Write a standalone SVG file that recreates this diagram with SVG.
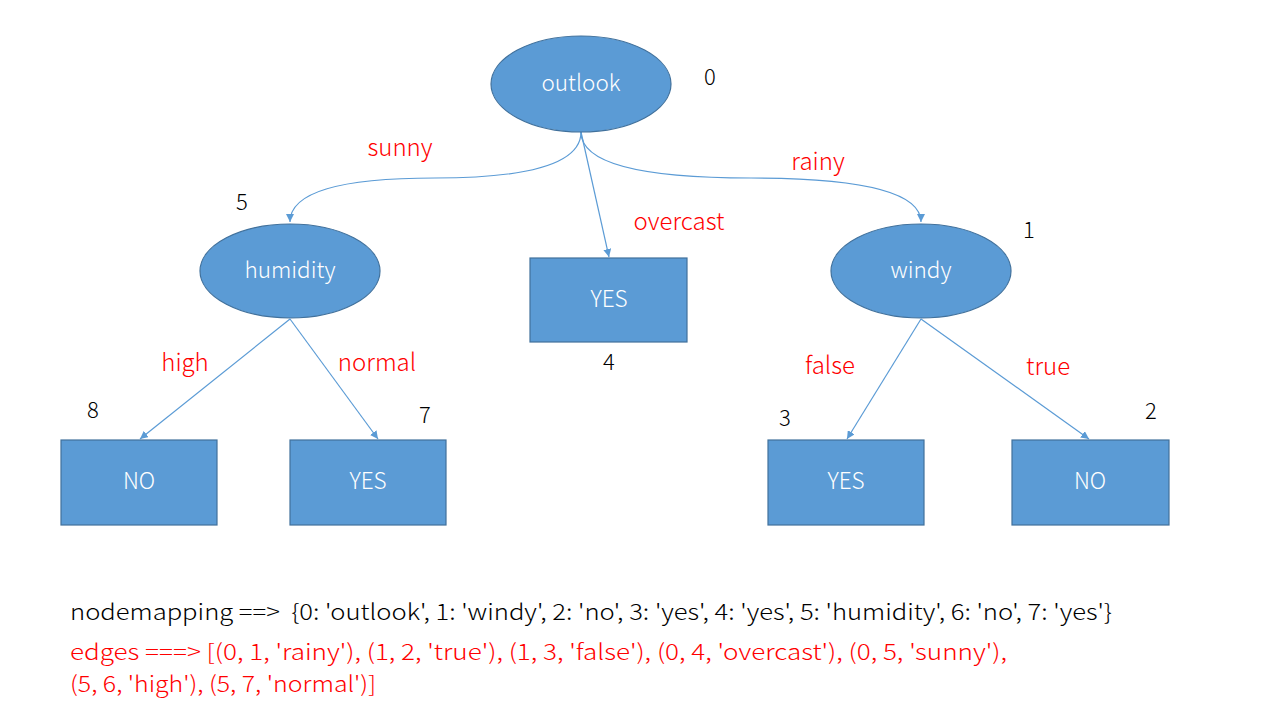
<svg xmlns="http://www.w3.org/2000/svg" width="1280" height="720" viewBox="0 0 1280 720">
<defs>
<style>
.node{fill:#5B9BD5;stroke:#41719C;stroke-width:1.2}
.nt{fill:#fff;font-family:"Noto Sans CJK JP","Noto Sans",sans-serif;font-size:22.5px;font-weight:300;text-anchor:middle}
.edge{fill:none;stroke:#5B9BD5;stroke-width:1.2;marker-end:url(#ah)}
.lbl{fill:#FF0000;font-family:"Noto Sans CJK JP","Noto Sans",sans-serif;font-size:24px;font-weight:300;text-anchor:middle}
.num{fill:#000;font-family:"Noto Sans CJK JP","Noto Sans",sans-serif;font-size:22px;font-weight:300;text-anchor:middle}
.code{font-family:"Noto Sans CJK JP","Noto Sans",sans-serif;font-size:22px;font-weight:300}
</style>
<marker id="ah" viewBox="0 0 10 10" refX="10" refY="5" markerWidth="8" markerHeight="8" markerUnits="userSpaceOnUse" orient="auto">
<path d="M0,0 L10,5 L0,10 z" fill="#5B9BD5"/>
</marker>
</defs>
<rect width="1280" height="720" fill="#fff"/>
<g id="connectors">
<path class="edge" d="M581,132 Q581,178 435,178 Q290,178 290,222"/>
<path class="edge" d="M581,132 Q581,178 751,178 Q921,178 921,222"/>
<path class="edge" d="M581,132 L609,257"/>
<path class="edge" d="M290,319 L140,439"/>
<path class="edge" d="M290,319 L378,439"/>
<path class="edge" d="M921,319 L847,439"/>
<path class="edge" d="M921,319 L1089,439"/>
</g>
<g id="edge-labels">
<text class="lbl" x="400" y="156">sunny</text>
<text class="lbl" x="818" y="170">rainy</text>
<text class="lbl" x="679" y="230">overcast</text>
<text class="lbl" x="185" y="371">high</text>
<text class="lbl" x="377" y="371">normal</text>
<text class="lbl" x="830" y="374">false</text>
<text class="lbl" x="1048" y="375">true</text>
</g>
<g id="node0">
<ellipse class="node" cx="581" cy="84" rx="90" ry="48"/>
<text class="nt" x="581" y="91">outlook</text>
<text class="num" x="710" y="85">0</text>
</g>
<g id="node5">
<ellipse class="node" cx="290" cy="271" rx="90" ry="47"/>
<text class="nt" x="290" y="278">humidity</text>
<text class="num" x="242" y="210">5</text>
</g>
<g id="node1">
<ellipse class="node" cx="921" cy="271" rx="90" ry="47"/>
<text class="nt" x="921" y="278">windy</text>
<text class="num" x="1029" y="238">1</text>
</g>
<g id="node4">
<rect class="node" x="530" y="258" width="157" height="84"/>
<text class="nt" x="609" y="307">YES</text>
<text class="num" x="609" y="370">4</text>
</g>
<g id="node8">
<rect class="node" x="61" y="440" width="156" height="85"/>
<text class="nt" x="139" y="489">NO</text>
<text class="num" x="93" y="418">8</text>
</g>
<g id="node7">
<rect class="node" x="290" y="440" width="156" height="85"/>
<text class="nt" x="368" y="489">YES</text>
<text class="num" x="425" y="423">7</text>
</g>
<g id="node3">
<rect class="node" x="768" y="440" width="156" height="85"/>
<text class="nt" x="846" y="489">YES</text>
<text class="num" x="785" y="426">3</text>
</g>
<g id="node2">
<rect class="node" x="1012" y="440" width="157" height="85"/>
<text class="nt" x="1090" y="489">NO</text>
<text class="num" x="1151" y="419">2</text>
</g>
<g id="text-block">
<text class="code" x="70" y="620" fill="#000" textLength="1042" lengthAdjust="spacingAndGlyphs" xml:space="preserve">nodemapping ==>  {0: 'outlook', 1: 'windy', 2: 'no', 3: 'yes', 4: 'yes', 5: 'humidity', 6: 'no', 7: 'yes'}</text>
<text class="code" x="70" y="660" fill="#FF0000" textLength="937" lengthAdjust="spacingAndGlyphs">edges ===&gt; [(0, 1, 'rainy'), (1, 2, 'true'), (1, 3, 'false'), (0, 4, 'overcast'), (0, 5, 'sunny'),</text>
<text class="code" x="70" y="692" fill="#FF0000" textLength="306" lengthAdjust="spacingAndGlyphs">(5, 6, 'high'), (5, 7, 'normal')]</text>
</g>
</svg>
